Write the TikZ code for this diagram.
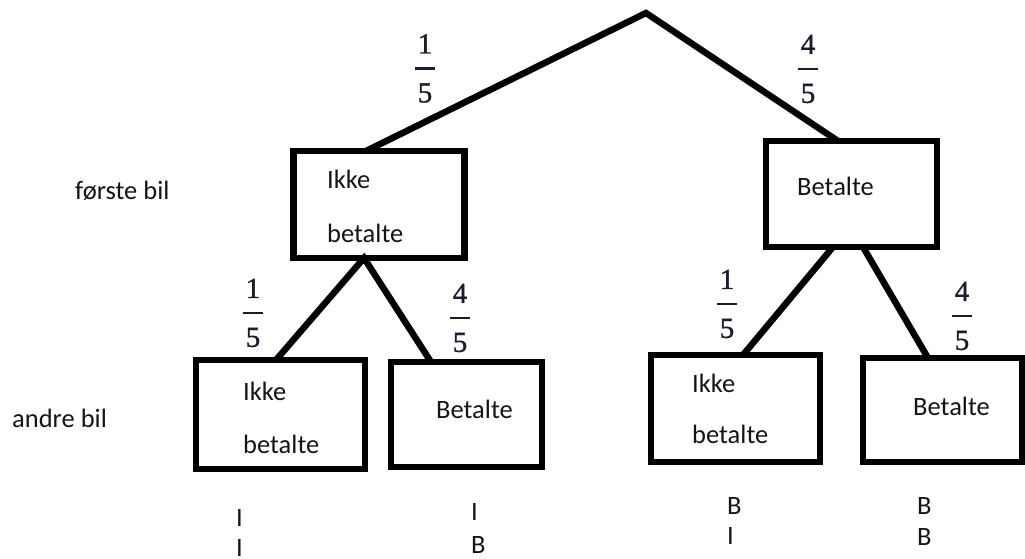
\documentclass[tikz,border=0pt]{standalone}
\usepackage{fontspec}
\newfontfamily\labelfont{Carlito}
\newfontfamily\numfont[FakeBold=1.2]{Liberation Serif}
\definecolor{ink}{RGB}{20,20,20}
\definecolor{fracink}{RGB}{28,28,48}
% stacked probability: numerator, bar, denominator; the bar sits at the box centre
\newcommand\prob[2]{\vbox{\offinterlineskip
  \hbox to 22pt{\hss#1\hss}\kern13.7pt
  \hbox to 22pt{\hss\vrule width 20pt height 2.5pt depth 0pt\hss}\kern13.7pt
  \hbox to 22pt{\hss#2\hss}}}
\tikzset{
  box/.style={draw=black, line width=6.5pt, rectangle, inner sep=0pt, outer sep=0pt},
  branch/.style={draw=black, line width=6.5pt},
  txt/.style={font=\labelfont\fontsize{26.5}{30}\selectfont, text=ink, inner sep=0pt, anchor=base west},
  frac/.style={font=\numfont\fontsize{29}{31}\selectfont, text=fracink, inner sep=0pt, anchor=center}
}
\begin{document}
\begin{tikzpicture}[x=1pt,y=-1pt]
\useasboundingbox (0,0) rectangle (1025,559);

% tree nodes
\coordinate (root) at (646,13);
\node[box, minimum width=171pt, minimum height=107pt] (L1) at (379,204.5) {};
\node[box, minimum width=171pt, minimum height=106pt] (R1) at (851.5,194) {};
\node[box, minimum width=169pt, minimum height=109pt] (LL) at (280.5,414.5) {};
\node[box, minimum width=151pt, minimum height=105pt] (LR) at (466.5,414.5) {};
\node[box, minimum width=169pt, minimum height=107pt] (RL) at (735.5,408.5) {};
\node[box, minimum width=159pt, minimum height=104pt] (RR) at (942.5,410) {};

% branches
\draw[branch] ([xshift=-13pt]L1.north) -- (root) -- ([xshift=-13.5pt]R1.north);
\draw[branch] ([xshift=-4.5pt]LL.north) -- ([xshift=-15pt]L1.south) -- ([xshift=-35.5pt]LR.north);
\draw[branch] ([xshift=7.5pt]RL.north) -- ([xshift=-18.5pt]R1.south);
\draw[branch] ([xshift=11.5pt]R1.south) -- ([xshift=-14.5pt]RR.north);

% box texts
\node[txt] (L1a) at (327,188) {Ikke};
\node[txt] (L1b) at (327,242) {betalte};
\node[txt] (R1a) at (797,195) {Betalte};
\node[txt] (LLa) at (243,400) {Ikke};
\node[txt] (LLb) at (243,453) {betalte};
\node[txt] (LRa) at (436,418) {Betalte};
\node[txt] (RLa) at (692,392) {Ikke};
\node[txt] (RLb) at (692,443) {betalte};
\node[txt] (RRa) at (913,415) {Betalte};

% level labels
\node[txt] (lev1) at (75,199) {første bil};
\node[txt] (lev2) at (12,427) {andre bil};

% probabilities
\node[frac] (p1) at (425,68.5) {\prob{1}{5}};
\node[frac] (p2) at (808,69) {\prob{4}{5}};
\node[frac] (p3) at (253,313) {\prob{1}{5}};
\node[frac] (p4) at (460,318) {\prob{4}{5}};
\node[frac] (p5) at (727,304) {\prob{1}{5}};
\node[frac] (p6) at (962,316) {\prob{4}{5}};

% outcomes
\node[txt] (o1a) at (236,526) {I};
\node[txt] (o1b) at (236,556) {I};
\node[txt] (o2a) at (471,520) {I};
\node[txt] (o2b) at (471,553) {B};
\node[txt] (o3a) at (727,514) {B};
\node[txt] (o3b) at (727,544) {I};
\node[txt] (o4a) at (917,514) {B};
\node[txt] (o4b) at (917,545) {B};
\end{tikzpicture}
\end{document}
